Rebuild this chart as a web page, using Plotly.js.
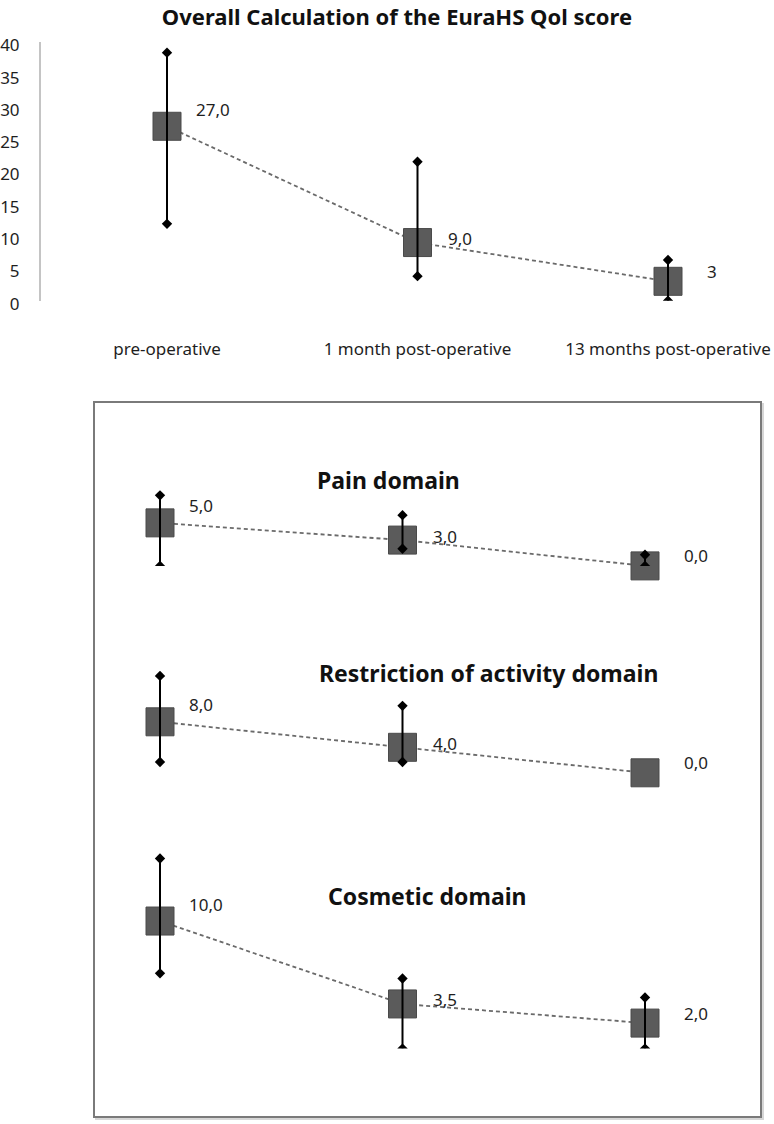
<!DOCTYPE html>
<html>
<head>
<meta charset="utf-8">
<script src="https://cdn.plot.ly/plotly-3.0.1.min.js"></script>
<style>html,body{margin:0;padding:0;background:#fff;}#chart{width:774px;height:1124px;}</style>
</head>
<body>
<div id="chart"></div>
<script>
// ---------- data ----------
const categories = ['pre-operative', '1 month post-operative', '13 months post-operative'];

const overallTitle = 'Overall Calculation of the EuraHS Qol score';
const overallMedian = [27, 9, 3];
const overallHigh = [38.4, 21.5, 6.3];
const overallLow = [11.9, 3.8, 0];
const overallLabels = ['27,0', '9,0', '3'];
const overallTicks = [0, 5, 10, 15, 20, 25, 30, 35, 40];

const domainTitles = ['Pain domain', 'Restriction of activity domain', 'Cosmetic domain'];

const painMedian = [5, 3, 0];
const painHigh = [8.2, 5.9, 1.3];
const painLow = [0, 2, 0];
const painLabels = ['5,0', '3,0', '0,0'];

const restrictionMedian = [8, 4, 0];
const restrictionHigh = [15.2, 10.5, null];
const restrictionLow = [1.7, 1.7, null];
const restrictionLabels = ['8,0', '4,0', '0,0'];

const cosmeticMedian = [10, 3.5, 2];
const cosmeticHigh = [14.9, 5.5, 4.0];
const cosmeticLow = [5.9, 0, 0];
const cosmeticLabels = ['10,0', '3,5', '2,0'];

// ---------- styling / layout helpers ----------
const W = 774, H = 1124;
const px = v => v / W;
const py = v => 1 - v / H;
const FONT = 'Noto Sans, DejaVu Sans, sans-serif';
const TXT = '#1e1e1e';
const labelXShift = [27, 28, 37];
const labelYShift = [17, 4, 10];

function panelTraces(xa, ya, med, hi, lo) {
  const wx = [], wy = [];
  for (let i = 0; i < categories.length; i++) {
    if (hi[i] === null || lo[i] === null) continue;
    wx.push(categories[i], categories[i], null);
    wy.push(lo[i], hi[i], null);
  }
  return [
    { x: categories, y: med, xaxis: xa, yaxis: ya, type: 'scatter', mode: 'lines',
      line: { color: '#6a6a6a', width: 1.8, dash: '4px,3px' }, cliponaxis: false, hoverinfo: 'skip' },
    { x: categories, y: med, xaxis: xa, yaxis: ya, type: 'scatter', mode: 'markers',
      marker: { symbol: 'square', size: 28, color: '#5b5b5b', line: { color: '#4a4a4a', width: 1 } },
      cliponaxis: false, hoverinfo: 'skip' },
    { x: wx, y: wy, xaxis: xa, yaxis: ya, type: 'scatter', mode: 'lines+markers',
      line: { color: '#000', width: 2 }, marker: { symbol: 'diamond', size: 8, color: '#000' },
      cliponaxis: true, connectgaps: false, hoverinfo: 'skip' }
  ];
}

function labelAnns(xa, ya, med, labels) {
  return labels.map((t, i) => ({
    x: categories[i], y: med[i], xref: xa, yref: ya, text: t, showarrow: false,
    xanchor: 'left', yanchor: 'middle', xshift: labelXShift[i], yshift: labelYShift[i],
    font: { family: FONT, size: 17, color: TXT }
  }));
}

const traces = [].concat(
  panelTraces('x', 'y', overallMedian, overallHigh, overallLow),
  panelTraces('x2', 'y2', painMedian, painHigh, painLow),
  panelTraces('x2', 'y3', restrictionMedian, restrictionHigh, restrictionLow),
  panelTraces('x2', 'y4', cosmeticMedian, cosmeticHigh, cosmeticLow)
);

const hiddenY = (d0, d1, r) => ({
  domain: [py(d0), py(d1)], range: r, anchor: 'x2', visible: false, fixedrange: true
});

const layout = {
  width: W, height: H,
  margin: { l: 0, r: 0, t: 0, b: 0, pad: 0 },
  paper_bgcolor: '#fff', plot_bgcolor: 'rgba(0,0,0,0)',
  showlegend: false,
  font: { family: FONT, color: TXT },
  title: {
    text: '<b>' + overallTitle + '</b>',
    font: { family: FONT, size: 22, color: '#111' },
    x: px(397), xanchor: 'center', y: py(17), yanchor: 'middle', xref: 'paper', yref: 'paper'
  },
  xaxis: {
    domain: [px(41), 1], type: 'category', categoryarray: categories,
    range: [-(167 - 41) / 250.5, (774 - 167) / 250.5],
    showline: false, showgrid: false, zeroline: false, ticks: '',
    tickfont: { family: FONT, size: 17, color: TXT }, ticklabelstandoff: 36,
    anchor: 'y', fixedrange: true
  },
  yaxis: {
    domain: [py(300.7), py(42.3)], range: [0, 40], tickvals: overallTicks,
    showline: true, linecolor: '#c4c4c4', linewidth: 2, showgrid: false, zeroline: false,
    ticks: '', tickfont: { family: FONT, size: 17, color: TXT }, ticklabelstandoff: 16,
    ticklabelshift: 3, anchor: 'x', fixedrange: true
  },
  xaxis2: {
    domain: [px(94), px(761)], type: 'category', categoryarray: categories,
    range: [-(160 - 94) / 242.5, (761 - 160) / 242.5],
    visible: false, anchor: 'y4', fixedrange: true
  },
  yaxis2: hiddenY(565.9, 479.85, [0, 10]),
  yaxis3: hiddenY(772.8, 670.8, [0, 16]),
  yaxis4: hiddenY(1048.6, 844.5, [0, 16]),
  shapes: [
    { type: 'rect', xref: 'paper', yref: 'paper', layer: 'below',
      x0: px(96), x1: px(763), y0: py(1119), y1: py(404), line: { color: '#d6d6d6', width: 2 } },
    { type: 'rect', xref: 'paper', yref: 'paper', layer: 'below',
      x0: px(94), x1: px(761), y0: py(1117), y1: py(402), line: { color: '#7a7a7a', width: 2 },
      fillcolor: '#fff' }
  ],
  annotations: [].concat(
    labelAnns('x', 'y', overallMedian, overallLabels),
    labelAnns('x2', 'y2', painMedian, painLabels),
    labelAnns('x2', 'y3', restrictionMedian, restrictionLabels),
    labelAnns('x2', 'y4', cosmeticMedian, cosmeticLabels),
    [
      { text: '<b>' + domainTitles[0] + '</b>', x: px(388), y: py(480) },
      { text: '<b>' + domainTitles[1] + '</b>', x: px(488), y: py(673) },
      { text: '<b>' + domainTitles[2] + '</b>', x: px(427), y: py(896) }
    ].map(a => Object.assign(a, {
      xref: 'paper', yref: 'paper', xanchor: 'center', yanchor: 'middle', showarrow: false,
      font: { family: FONT, size: 23, color: '#111' }
    }))
  )
};

Plotly.newPlot('chart', traces, layout, { staticPlot: true, displayModeBar: false });
</script>
</body>
</html>
